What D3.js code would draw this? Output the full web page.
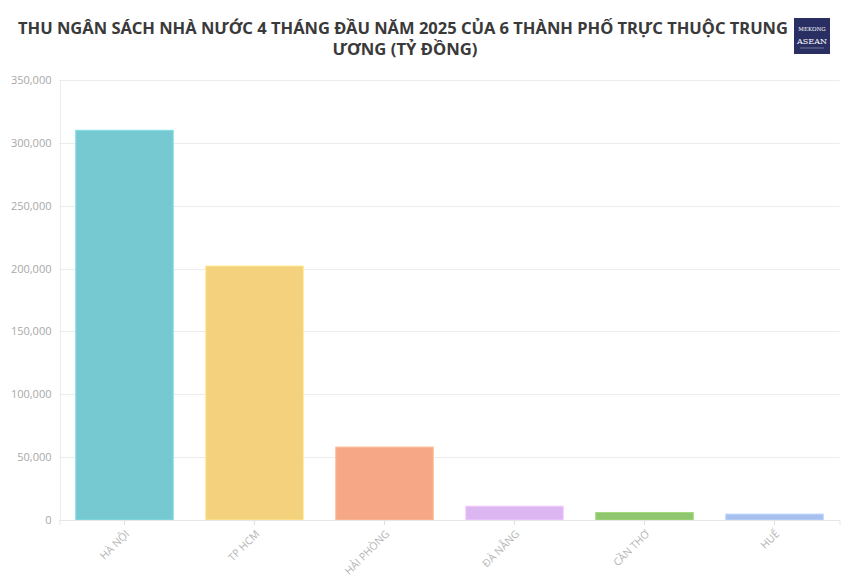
<!DOCTYPE html>
<html><head><meta charset="utf-8">
<script src="https://cdn.jsdelivr.net/npm/d3@7"></script>
<style>body{margin:0;background:#fff;}svg{display:block;}</style>
</head><body>
<svg id="c" width="850" height="578"></svg>
<script>
const categories = ["HÀ NỘI","TP HCM","HẢI PHÒNG","ĐÀ NẴNG","CẦN THƠ","HUẾ"];
const values = [310000, 202000, 58000, 11000, 6000, 4700];
const colors = ["#76c9d0","#f3d17d","#f6a886","#dcb6f1","#8fc66f","#a7c0ee"];
const yTicks = [0,50000,100000,150000,200000,250000,300000,350000];
const titleLines = ["THU NGÂN SÁCH NHÀ NƯỚC 4 THÁNG ĐẦU NĂM 2025 CỦA 6 THÀNH PHỐ TRỰC THUỘC TRUNG","ƯƠNG (TỶ ĐỒNG)"];

const svg = d3.select("#c");
const m = {left:59.5, right:839.5, top:80, bottom:520};
const x = d3.scaleBand().domain(categories).range([m.left, m.right]).paddingInner(0.25).paddingOuter(0.125);
const y = d3.scaleLinear().domain([0,350000]).range([m.bottom, m.top]);

// grid
svg.append("g").selectAll("line").data(yTicks).join("line")
  .attr("x1", m.left).attr("x2", m.right)
  .attr("y1", d=>Math.round(y(d))+0.5).attr("y2", d=>Math.round(y(d))+0.5)
  .attr("stroke", "#ececec").attr("stroke-width", 1);
svg.append("line").attr("x1", 60.5).attr("x2", 60.5).attr("y1", m.top).attr("y2", m.bottom)
  .attr("stroke", "#ececec");

// y axis
const ya = svg.append("g").attr("transform", `translate(${m.left},0)`)
  .call(d3.axisLeft(y).tickValues(yTicks).tickFormat(d3.format(",")).tickSize(0).tickPadding(8));
ya.select(".domain").remove();
ya.selectAll("text").attr("fill", "#a8a8a8").style("font-family", "'Open Sans', sans-serif").style("font-size", "11px");

// bars
svg.append("g").selectAll("rect").data(values).join("rect")
  .attr("x", (d,i)=>x(categories[i])).attr("width", x.bandwidth())
  .attr("y", d=>y(d)).attr("height", d=>y(0)-y(d))
  .attr("fill", (d,i)=>colors[i])
  .attr("stroke", (d,i)=>d3.color(colors[i]).brighter(0.3)).attr("stroke-width", 1);

// x axis
const xa = svg.append("g").attr("transform", `translate(0,${m.bottom})`)
  .call(d3.axisBottom(x).tickSize(5).tickPadding(4));
xa.select(".domain").attr("stroke", "#e6e6e6");
xa.selectAll(".tick line").attr("stroke", "#e0e0e0");
xa.selectAll("text").attr("fill", "#b5b5b5")
  .style("font-family", "'Open Sans', sans-serif").style("font-size", "10.5px")
  .attr("text-anchor", "end").attr("y", 0).attr("dy", "0.35em")
  .attr("transform", "translate(3,12) rotate(-45)");

// title
const t = svg.append("g").style("font-family", "'Noto Sans', sans-serif").style("font-weight", "bold")
  .attr("fill", "#3a3a3a").style("font-size", "16px");
t.append("text").attr("x", 18).attr("y", 34).attr("textLength", 770).attr("lengthAdjust", "spacingAndGlyphs").text(titleLines[0]);
t.append("text").attr("x", 405).attr("y", 55).attr("text-anchor", "middle").attr("textLength", 145).attr("lengthAdjust", "spacingAndGlyphs").text(titleLines[1]);

// logo
const lg = svg.append("g");
lg.append("rect").attr("x", 794).attr("y", 18).attr("width", 36).attr("height", 36).attr("fill", "#2a2f63");
lg.append("text").attr("x", 812).attr("y", 31).attr("text-anchor", "middle").attr("fill", "#fff")
  .style("font-family", "'DejaVu Serif', serif").style("font-size", "5.5px").text("MEKONG");
lg.append("text").attr("x", 812).attr("y", 44).attr("text-anchor", "middle").attr("fill", "#fff")
  .style("font-family", "'DejaVu Serif', serif").style("font-size", "8px").text("ASEAN");
lg.append("line").attr("x1", 800).attr("x2", 824).attr("y1", 48).attr("y2", 48).attr("stroke", "#aab").attr("stroke-width", 0.6);
</script>
</body></html>
